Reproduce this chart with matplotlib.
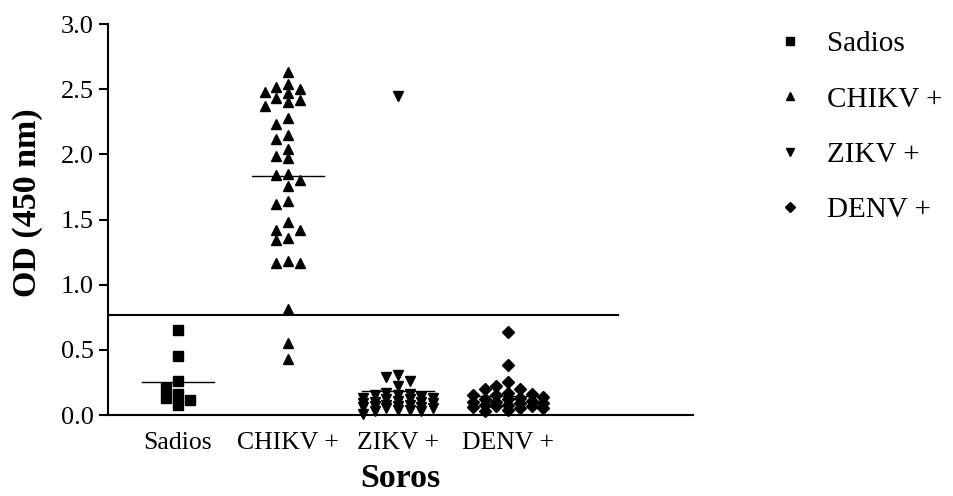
import numpy as np
import matplotlib.pyplot as plt

# OD values, per group
groups = ['Sadios', 'CHIKV +', 'ZIKV +', 'DENV +']
sadios = [0.65, 0.45, 0.26, 0.21, 0.16, 0.13, 0.115, 0.08]
chikv = [2.63, 2.54, 2.52, 2.50, 2.48, 2.47, 2.43, 2.42, 2.40, 2.37,
         2.28, 2.23, 2.15, 2.12, 2.04, 1.99, 1.97, 1.85, 1.84, 1.80,
         1.76, 1.64, 1.62, 1.48, 1.42, 1.42, 1.36, 1.34, 1.18, 1.17,
         1.17, 0.81, 0.555, 0.43]
zikv = [2.45, 0.31, 0.29, 0.26, 0.22, 0.17, 0.16, 0.15, 0.15, 0.14,
        0.13, 0.13, 0.12, 0.12, 0.11, 0.10, 0.10, 0.09, 0.09, 0.08,
        0.08, 0.07, 0.07, 0.06, 0.06, 0.05, 0.05, 0.04, 0.04, 0.03,
        0.03, 0.01]
denv = [0.64, 0.38, 0.255, 0.22, 0.20, 0.20, 0.17, 0.16, 0.15, 0.15,
        0.14, 0.13, 0.12, 0.12, 0.11, 0.10, 0.10, 0.09, 0.09, 0.08,
        0.08, 0.07, 0.07, 0.06, 0.05, 0.05, 0.04, 0.03]
cutoff = 0.767

data = [sadios, chikv, zikv, denv]
markers = ['s', '^', 'v', 'D']
msizes = [6.5, 7.5, 7.5, 6.3]

plt.rcParams['font.family'] = ['Liberation Serif', 'DejaVu Serif']

W, H = 954, 496
fig = plt.figure(figsize=(W / 100, H / 100), dpi=100)
ax = fig.add_axes([108 / W, 81 / H, 585 / W, 391 / H])
xmin, xmax, ymin, ymax = 0.364, 5.68, 0.0, 3.0
ax.set_xlim(xmin, xmax)
ax.set_ylim(ymin, ymax)

px_x = 585 / (xmax - xmin)   # pixels per x unit
px_y = 391 / (ymax - ymin)   # pixels per y unit
slot = 11.7                  # horizontal step between columns, px
mind = 9.0                   # min distance between markers, px
maxslot = 3


def swarm(vals):
    # column swarm, like the Prism scatter layout; crowded points
    # go to the slot where they overlap least
    placed = []
    offs = []
    order = [0]
    for n in range(1, maxslot + 1):
        order += [-n, n]
    for v in vals:
        best, best_d = 0, -1
        for k in order:
            d = 1e9
            for (pk, pv) in placed:
                dx = (k - pk) * slot
                dy = (v - pv) * px_y
                d = min(d, np.hypot(dx, dy))
            if d >= mind:
                best = k
                break
            if d > best_d + 0.5:
                best, best_d = k, d
        placed.append((best, v))
        offs.append(best * slot / px_x)
    return np.array(offs)


handles = []
for i, vals in enumerate(data):
    xc = i + 1
    xs = xc + swarm(vals)
    h, = ax.plot(xs, vals, linestyle='none', marker=markers[i],
                 ms=msizes[i], color='black', clip_on=False,
                 label=groups[i])
    handles.append(h)
    m = np.mean(vals)
    ax.plot([xc - 0.33, xc + 0.33], [m, m], color='black', lw=1.0)

ax.plot([xmin, 5.0], [cutoff, cutoff], color='black', lw=1.5)

for s in ['top', 'right']:
    ax.spines[s].set_visible(False)
for s in ['left', 'bottom']:
    ax.spines[s].set_linewidth(1.5)

ax.set_yticks(np.arange(0, 3.01, 0.5))
ax.set_yticklabels([f'{t:.1f}' for t in np.arange(0, 3.01, 0.5)])
ax.set_xticks([1, 2, 3, 4])
ax.set_xticklabels(groups)
ax.tick_params(axis='y', length=6.5, width=1.5, pad=4, labelsize=19)
ax.tick_params(axis='x', length=0, pad=12, labelsize=18.5)

ax.set_xlabel('Soros', fontsize=24.5, fontweight='bold', labelpad=7)
ax.set_ylabel('OD (450 nm)', fontsize=24.5, fontweight='bold', va='center')
ax.yaxis.set_label_coords(-0.138, 0.542)

lg = fig.legend(handles=handles, loc='upper left',
                bbox_to_anchor=(775 / W, 1 - 31 / H), frameon=False,
                fontsize=21, handlelength=1.0, handletextpad=0.8,
                labelspacing=0.99, borderpad=0, borderaxespad=0,
                numpoints=1, markerscale=0.85)

fig.savefig('out.png', dpi=100)
